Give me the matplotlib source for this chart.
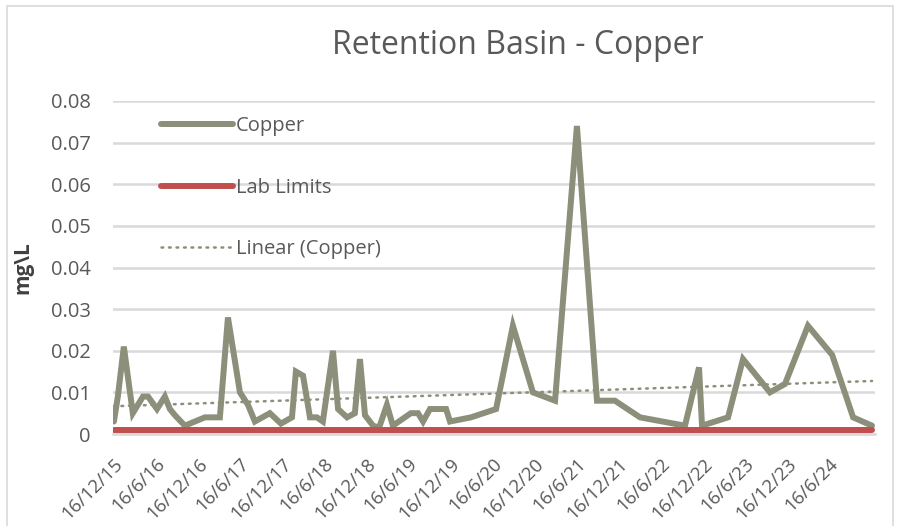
import matplotlib
matplotlib.use("Agg")
import matplotlib.pyplot as plt
import matplotlib.dates as mdates
import matplotlib.transforms as mtransforms
import numpy as np
import pandas as pd
from matplotlib.patches import Rectangle

# ---------------- data ----------------
sample_dates = [
    "2015-12-16", "2016-01-02", "2016-01-28", "2016-03-07", "2016-04-20",
    "2016-05-12", "2016-06-20", "2016-07-24", "2016-08-15", "2016-09-06",
    "2016-10-19", "2017-01-14", "2017-03-20", "2017-04-24", "2017-06-15",
    "2017-07-20", "2017-08-19", "2017-10-23", "2017-12-10", "2018-01-27",
    "2018-02-13", "2018-03-16", "2018-04-15", "2018-05-15", "2018-06-10",
    "2018-07-24", "2018-08-15", "2018-09-23", "2018-10-27", "2018-11-18",
    "2018-12-10", "2019-01-14", "2019-02-09", "2019-03-15", "2019-04-10",
    "2019-06-27", "2019-07-28", "2019-08-19", "2019-09-18", "2019-11-27",
    "2019-12-14", "2020-03-14", "2020-07-01", "2020-09-12", "2020-12-08",
    "2021-03-14", "2021-06-17", "2021-09-12", "2021-11-29", "2022-03-18",
    "2022-09-29", "2022-11-29", "2022-12-12", "2023-04-04", "2023-06-08",
    "2023-10-03", "2023-12-07", "2024-03-16", "2024-06-29", "2024-09-28",
    "2024-12-19",
]
copper = [
    0.003, 0.009, 0.021, 0.005, 0.009,
    0.009, 0.006, 0.009, 0.006, 0.0045,
    0.002, 0.004, 0.004, 0.028, 0.010,
    0.007, 0.003, 0.005, 0.0025, 0.004,
    0.015, 0.014, 0.004, 0.004, 0.003,
    0.020, 0.006, 0.004, 0.005, 0.018,
    0.0045, 0.002, 0.0015, 0.007, 0.002,
    0.005, 0.005, 0.003, 0.006, 0.006,
    0.003, 0.004, 0.006, 0.026, 0.010,
    0.008, 0.074, 0.008, 0.008, 0.004,
    0.002, 0.016, 0.002, 0.004, 0.018,
    0.010, 0.012, 0.026, 0.019, 0.004,
    0.002,
]
lab_limit = 0.001

tick_dates = [
    "2015-12-16", "2016-06-16", "2016-12-16", "2017-06-16", "2017-12-16",
    "2018-06-16", "2018-12-16", "2019-06-16", "2019-12-16", "2020-06-16",
    "2020-12-16", "2021-06-16", "2021-12-16", "2022-06-16", "2022-12-16",
    "2023-06-16", "2023-12-16", "2024-06-16",
]
tick_labels = [
    "16/12/15", "16/6/16", "16/12/16", "16/6/17", "16/12/17",
    "16/6/18", "16/12/18", "16/6/19", "16/12/19", "16/6/20",
    "16/12/20", "16/6/21", "16/12/21", "16/6/22", "16/12/22",
    "16/6/23", "16/12/23", "16/6/24",
]
y_ticks = [0, 0.01, 0.02, 0.03, 0.04, 0.05, 0.06, 0.07, 0.08]
y_tick_labels = ["0", "0.01", "0.02", "0.03", "0.04", "0.05", "0.06", "0.07", "0.08"]

# ---------------- style ----------------
FONT = ["Open Sans", "DejaVu Sans"]
plt.rcParams["font.family"] = FONT
TEXT = "#595959"
COPPER_C = "#8c8f79"
RED_C = "#c0504d"
GRID_C = "#d9d9d9"

W, H = 904, 526
fig = plt.figure(figsize=(W / 100, H / 100), dpi=100)
fig.patches.append(Rectangle((7 / W, -0.01), 886 / W, 1 - 6 / H + 0.01,
                             transform=fig.transFigure, fill=False,
                             edgecolor="#d9d9d9", linewidth=1.2))

ax = fig.add_axes([113 / W, 1 - 434 / H, (875 - 113) / W, (434 - 101) / H])

dates = pd.to_datetime(sample_dates)
ticks = pd.to_datetime(tick_dates)

# linear trendline computed from the copper data
xnum = mdates.date2num(dates)
coef = np.polyfit(xnum, copper, 1)
trend = np.polyval(coef, xnum)

ax.plot(dates, copper, color=COPPER_C, linewidth=4.3, solid_joinstyle="miter",
        solid_capstyle="round", zorder=3, label="Copper")
ax.plot([dates[0], dates[-1]], [lab_limit, lab_limit], color=RED_C,
        linewidth=4.3, solid_capstyle="round", zorder=4, label="Lab Limits")
ax.plot([dates[0], dates[-1]], [trend[0], trend[-1]], color=COPPER_C,
        linewidth=1.8, linestyle=(0, (0.7, 2.3)), dash_capstyle="round",
        zorder=2, label="Linear (Copper)")

ax.set_ylim(0, 0.08)
ax.set_xlim(pd.Timestamp("2015-12-12"), pd.Timestamp("2025-01-01"))
ax.set_yticks(y_ticks)
ax.set_yticklabels(y_tick_labels, color=TEXT, fontsize=14.5)
ax.set_xticks(ticks)
ax.set_xticklabels(tick_labels, rotation=45, ha="right", va="top",
                   rotation_mode="anchor", color=TEXT, fontsize=13.5)
shift = mtransforms.ScaledTranslation(5 / 100, 0, fig.dpi_scale_trans)
for lbl in ax.get_xticklabels():
    lbl.set_transform(lbl.get_transform() + shift)
ax.tick_params(axis="both", length=0)
ax.tick_params(axis="x", pad=15)
ax.tick_params(axis="y", pad=16)

ax.grid(axis="y", color=GRID_C, linewidth=1.8)
ax.set_axisbelow(True)
for s in ["top", "right", "left"]:
    ax.spines[s].set_visible(False)
ax.spines["bottom"].set_color(GRID_C)
ax.spines["bottom"].set_linewidth(1.8)

ax.set_ylabel("mg\\L", color="#404040", fontsize=15, fontweight="bold")
ax.yaxis.set_label_coords(-0.105, 0.5)

fig.text(518 / W, 1 - 45 / H, "Retention Basin - Copper", ha="center",
         va="center", fontsize=23, color=TEXT)

leg = ax.legend(loc="upper left", bbox_to_anchor=(0.045, 0.996), frameon=False,
                fontsize=14.5, handlelength=3.55, handletextpad=0.15,
                labelspacing=2.05, borderpad=0.2)
for t in leg.get_texts():
    t.set_color(TEXT)

fig.savefig("out.png", dpi=100)
